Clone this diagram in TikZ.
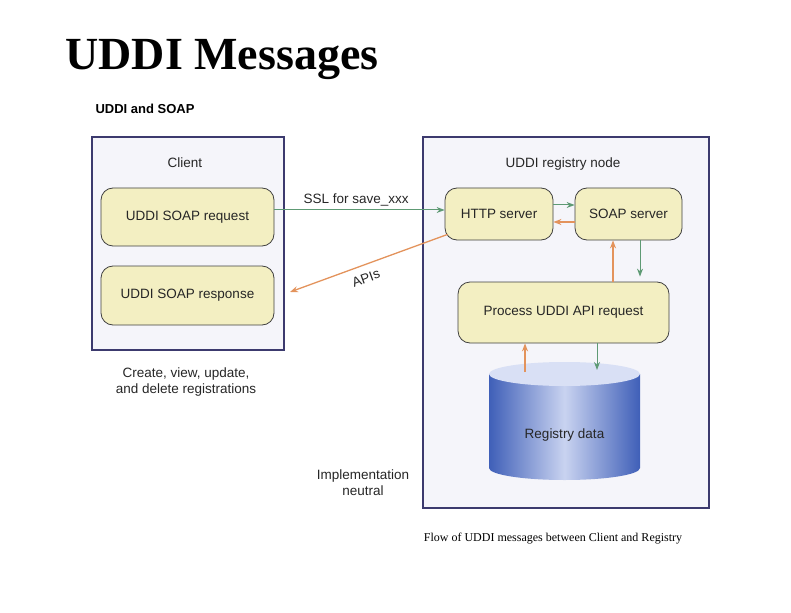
\documentclass[tikz,border=0pt]{standalone}
\usepackage{fontspec}
\setmainfont{Liberation Serif}
\setsansfont{Liberation Sans}
\usetikzlibrary{arrows.meta,shapes.geometric}
\definecolor{navy}{HTML}{3C3A6E}
\definecolor{pane}{HTML}{F5F5FA}
\definecolor{boxy}{HTML}{F3EFC2}
\definecolor{gr}{HTML}{5E9A74}
\definecolor{orn}{HTML}{E3935C}
\definecolor{cylb}{HTML}{3F5FB8}
\definecolor{cyll}{HTML}{C9D3F0}
\tikzset{
 pane/.style={draw=navy,line width=1.6pt,fill=pane},
 rbox/.style={draw=black!75,line width=0.8pt,fill=boxy,rounded corners=12pt},
 lbl/.style={font=\sffamily\fontsize{13.5}{16}\selectfont,text=black!85},
 garr/.style={draw=gr,line width=1pt,-{Stealth[length=8pt,width=6pt]}},
 oarr/.style={draw=orn,line width=1.3pt,-{Stealth[length=8pt,width=6pt]}},
}
\begin{document}
\begin{tikzpicture}[x=1pt,y=-1pt]
\useasboundingbox (0,0) rectangle (791,612);
\node[anchor=west,font=\bfseries\fontsize{46}{50}\selectfont] (title) at (62,60) {UDDI Messages};
\node[anchor=west,font=\sffamily\bfseries\fontsize{13}{15}\selectfont] (sub) at (92,109) {UDDI and SOAP};
\draw[pane] (92,137) rectangle (284,350);
\draw[pane] (423,137) rectangle (709,508);
\node[lbl] (client) at (185,163) {Client};
\node[lbl] (regnode) at (563,164) {UDDI registry node};
\node[rbox,minimum width=173pt,minimum height=58pt,lbl] (req) at (187.5,217) {UDDI SOAP request};
\node[rbox,minimum width=173pt,minimum height=59pt,lbl] (resp) at (187.5,295.5) {UDDI SOAP response};
\node[rbox,minimum width=108pt,minimum height=52pt,lbl] (http) at (499,214) {HTTP server};
\node[rbox,minimum width=107pt,minimum height=52pt,lbl] (soap) at (628.5,214) {SOAP server};
\node[rbox,minimum width=211pt,minimum height=61pt,lbl] (proc) at (563.5,312.5) {Process UDDI API request};
\node[lbl,align=center] (cvud) at (186,382) {Create, view, update,\\and delete registrations};
\node[lbl,align=center] (impl) at (363,483) {Implementation\\neutral};
% cylinder
\coordinate (cyl) at (564.5,374);
\shade[left color=cylb,right color=cylb,middle color=cyll] (489,374) -- (489,468) arc[start angle=180,end angle=0,x radius=75.5,y radius=12] -- (640,374) -- cycle;
\fill[cyll!70!white] (cyl) ellipse[x radius=75.5,y radius=12];
\node[lbl] (reg) at (564.5,435) {Registry data};
% arrows
\draw[garr] (req.east |- 0,210) -- node[above,lbl,pos=0.48] {SSL for save\_xxx} (http.west |- 0,210);
\draw[oarr] ([shift={(3,-6)}]http.south west) -- (290,292) coordinate (ap);
\node[lbl,rotate=20] (apis) at (366,278) {APIs};
\draw[garr] ([yshift=9pt]http.east) -- ([yshift=9pt]soap.west);
\draw[oarr] ([yshift=-8pt]soap.west) -- ([yshift=-8pt]http.east);
\draw[oarr] (proc.north -| 613,0) -- (soap.south -| 613,0);
\draw[garr] (soap.south -| 640,0) -- ([yshift=5pt]proc.north -| 640,0);
\draw[oarr] (525,372) -- (proc.south -| 525,0);
\draw[garr] (proc.south -| 597,0) -- (597,370);
\node[font=\fontsize{12}{14}\selectfont] (cap) at (553,539) {Flow of UDDI messages between Client and Registry};
\end{tikzpicture}
\end{document}
